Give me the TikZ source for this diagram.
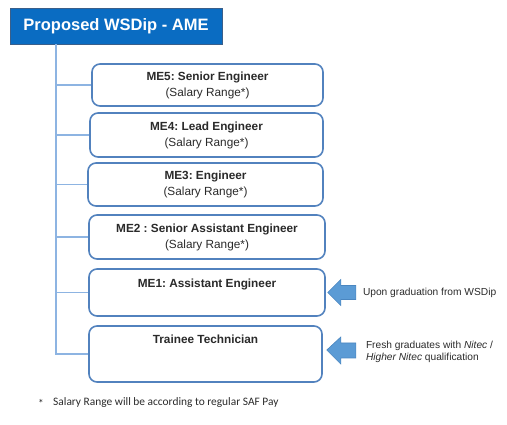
\documentclass[tikz,border=0pt]{standalone}
\usepackage{fontspec}
\setmainfont{Liberation Sans}
\newfontfamily\calibri{Carlito}
\usetikzlibrary{calc}
\frenchspacing
\definecolor{titleblue}{HTML}{0A6CC2}
\definecolor{titleedge}{HTML}{3A5F8A}
\definecolor{boxedge}{HTML}{5282BE}
\definecolor{spinecol}{HTML}{8DB4E2}
\definecolor{arrowfill}{HTML}{5B9BD5}
\definecolor{arrowedge}{HTML}{4A86C0}
\definecolor{txt}{HTML}{2A2A2A}
\begin{document}
\frenchspacing
\begin{tikzpicture}[x=1pt,y=-1pt,
  titlebox/.style={draw=titleedge, line width=0.8pt, fill=titleblue, text=white,
    font=\fontsize{16.5}{19}\selectfont\bfseries, minimum width=212pt, minimum height=36pt, inner sep=0pt},
  rankbox/.style={draw=boxedge, line width=1.6pt, rounded corners=8pt, fill=white,
    inner sep=0pt, align=center, text=txt, font=\fontsize{11.8}{16}\selectfont},
  ranktext/.style={text=txt, font=\fontsize{11.8}{16}\selectfont\bfseries, inner sep=0pt},
  spineline/.style={draw=spinecol, line width=1.8pt},
  blockarrow/.style={draw=arrowedge, line width=0.6pt, fill=arrowfill},
  sidetext/.style={text=txt, font=\fontsize{10.2}{12}\selectfont, anchor=west, align=left, inner sep=0pt},
  foot/.style={text=txt, font=\calibri\fontsize{11.4}{13}\selectfont, anchor=west, inner sep=0pt}]
\useasboundingbox (0,0) rectangle (507,425);

\node[titlebox] (title) at (116,26) {Proposed WSDip - AME};

\node[rankbox, minimum width=231pt, minimum height=42pt] (me5) at (207.5,85)
  {\textbf{ME5: Senior Engineer}\\(Salary Range*)};
\node[rankbox, minimum width=233pt, minimum height=44pt] (me4) at (206.5,135)
  {\textbf{ME4: Lead Engineer}\\(Salary Range*)};
\node[rankbox, minimum width=235pt, minimum height=43pt] (me3) at (205.5,184.5)
  {\textbf{ME3: Engineer}\\(Salary Range*)};
\node[rankbox, minimum width=236pt, minimum height=44pt] (me2) at (207,237)
  {\textbf{ME2 : Senior Assistant Engineer}\\(Salary Range*)};
\node[rankbox, minimum width=236pt, minimum height=47pt] (me1) at (207,292.5) {};
\node[rankbox, minimum width=233pt, minimum height=56pt] (trainee) at (205.5,354) {};

\node[ranktext] (me1t) at ($(me1.north)+(0,16)$) {ME1: Assistant Engineer};
\node[ranktext] (traineet) at ($(trainee.north)+(0,14)$) {Trainee Technician};

% spine and branches
\coordinate (spinetop) at ($(title.south west)+(46,0)$);
\draw[spineline] (spinetop) |- (trainee.west);
\foreach \b in {me5,me4,me3,me2,me1}
  \draw[spineline] (spinetop |- \b.west) -- (\b.west);

% block arrows
\coordinate (a1) at ($(me1.east)+(2,0)$);
\draw[blockarrow] (a1) -- ++(13,-13) -- ++(0,6) -- ++(15,0) -- ++(0,14) -- ++(-15,0) -- ++(0,6) -- cycle;
\coordinate (a2) at ($(trainee.east)+(4,-4)$);
\draw[blockarrow] (a2) -- ++(14,-13) -- ++(0,6) -- ++(15,0) -- ++(0,15) -- ++(-15,0) -- ++(0,6) -- cycle;

\node[sidetext] (s1) at ($(a1)+(35,0.5)$) {Upon graduation from WSDip};
\node[sidetext] (s2) at ($(a2)+(39,2)$) {Fresh graduates with \textit{Nitec} /\\\textit{Higher Nitec} qualification};

\node[foot] (star) at (38,403) {*};
\node[foot] (note) at (53,403) {Salary Range will be according to regular SAF Pay};
\end{tikzpicture}
\end{document}
